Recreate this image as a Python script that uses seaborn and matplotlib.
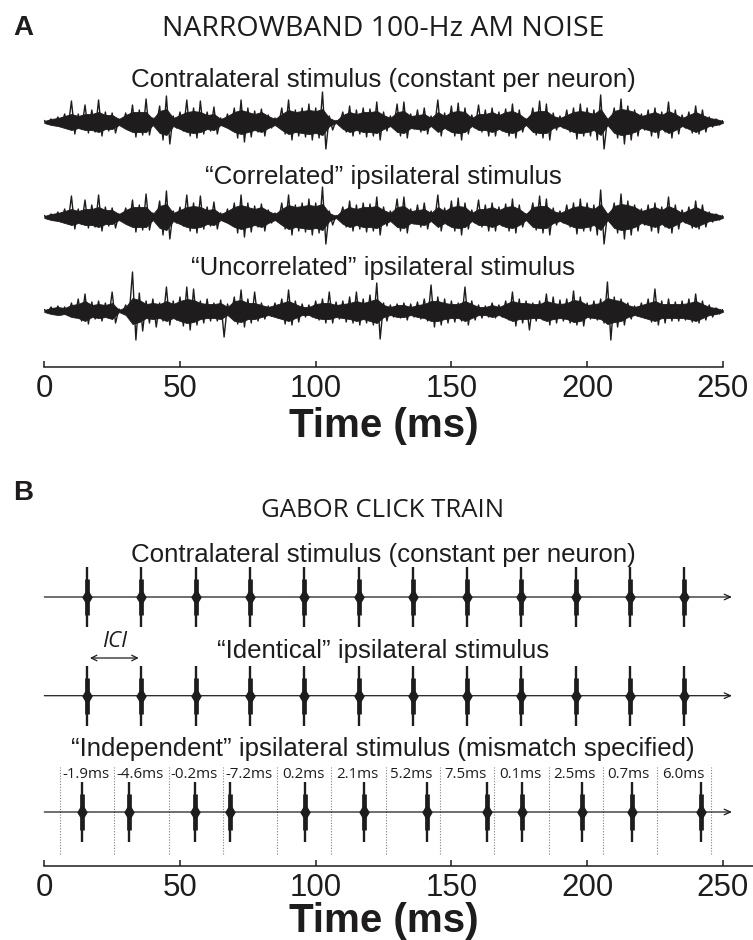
import numpy as np
import pandas as pd
import matplotlib
matplotlib.use("Agg")
import matplotlib.pyplot as plt
import seaborn as sns

# ---------------- data ----------------
# Panel A: narrowband AM noise, envelope every 2.5 ms
# (up = positive peak, dn = negative peak, core = solid body half-height; arbitrary units ~ px)
noise_t_ms = np.arange(0, 250.01, 2.5)

contra_up = [1.5, 3, 5, 8, 21, 8, 17, 12, 22, 10, 9, 3, 9, 17, 12, 23, 4, 16, 26, 6,
             10, 22, 14, 21, 10, 15, 4, 8, 14, 22, 14, 11, 13, 7, 4, 14, 22, 12, 14, 18,
             14, 30, 6, 1.5, 10, 16, 12, 14, 13, 20, 10, 6, 18, 20, 8, 12, 14, 6, 22, 9,
             16, 19, 14, 7, 17, 12, 14, 10, 13, 18, 12, 3, 14, 21, 18, 9, 6, 12, 14, 18,
             14, 12, 27, 3, 14, 23, 16, 12, 8, 12, 14, 10, 20, 12, 7, 10, 16, 12, 5, 3, 1.5]
contra_dn = [1.5, 3, 4, 6, 12, 7, 11, 10, 14, 9, 11, 3, 8, 15, 13, 13, 4, 18, 22, 6,
             9, 14, 16, 12, 9, 12, 4, 7, 16, 20, 15, 10, 14, 6, 4, 12, 18, 14, 15, 18,
             16, 27, 8, 1.5, 10, 14, 12, 15, 14, 18, 9, 5, 14, 16, 7, 10, 12, 6, 14, 8,
             14, 18, 12, 6, 10, 14, 14, 9, 14, 16, 10, 3, 13, 16, 18, 8, 6, 10, 17, 14,
             14, 18, 27, 3, 16, 22, 18, 14, 8, 14, 16, 10, 16, 12, 6, 11, 12, 10, 5, 3, 1.5]
contra_core = [1, 3, 4, 6, 8, 6, 8, 8, 10, 7, 7, 3, 7, 10, 10, 10, 3, 11, 13, 4,
               7, 10, 11, 10, 7, 8, 3, 6, 10, 12, 10, 8, 10, 6, 3, 8, 12, 10, 11, 12,
               11, 13, 4, 1, 7, 10, 8, 10, 10, 11, 7, 4, 10, 11, 6, 7, 8, 4, 10, 6,
               10, 11, 10, 4, 8, 8, 10, 7, 10, 11, 8, 3, 10, 11, 11, 6, 4, 7, 10, 11,
               10, 8, 13, 3, 11, 13, 12, 10, 6, 8, 10, 7, 11, 8, 4, 7, 10, 7, 4, 3, 1]

# "Correlated" ipsilateral stimulus is drawn identical to the contralateral one
corr_up = list(contra_up)
corr_dn = list(contra_dn)
corr_core = list(contra_core)

uncorr_up = [1.5, 4, 5, 4, 8, 12, 17, 9, 10, 8, 19, 2, 6, 39, 18, 10, 12, 8, 24, 10,
             14, 24, 22, 10, 12, 8, 11, 7, 14, 21, 12, 19, 8, 5, 8, 12, 21, 10, 7, 6,
             10, 12, 19, 9, 10, 14, 19, 12, 16, 28, 8, 6, 7, 8, 7, 9, 12, 26, 14, 12,
             10, 8, 24, 10, 6, 5, 8, 6, 10, 19, 12, 10, 8, 10, 17, 14, 11, 12, 20, 14,
             8, 10, 12, 29, 14, 12, 8, 5, 8, 12, 22, 10, 12, 9, 10, 12, 17, 10, 6, 3, 1.5]
uncorr_dn = [1.5, 3, 4, 4, 6, 10, 13, 8, 10, 7, 12, 2, 5, 29, 20, 12, 16, 10, 14, 9,
             15, 19, 14, 12, 10, 10, 26, 6, 13, 16, 12, 10, 8, 5, 7, 13, 14, 11, 6, 6,
             9, 12, 12, 8, 11, 12, 14, 12, 14, 28, 10, 6, 7, 9, 6, 8, 10, 16, 14, 12,
             11, 10, 14, 9, 7, 6, 7, 6, 9, 15, 12, 19, 10, 9, 14, 12, 10, 12, 14, 15,
             8, 9, 12, 29, 16, 14, 8, 5, 7, 11, 14, 12, 10, 10, 9, 11, 12, 9, 6, 3, 1.5]
uncorr_core = [1, 3, 4, 3, 6, 7, 10, 6, 7, 6, 8, 1, 4, 13, 11, 7, 8, 7, 10, 7,
               10, 12, 11, 8, 7, 7, 8, 4, 10, 11, 8, 8, 6, 4, 6, 8, 10, 7, 4, 4,
               7, 8, 8, 6, 7, 8, 10, 8, 10, 12, 6, 4, 6, 6, 4, 6, 7, 10, 10, 8,
               7, 7, 10, 7, 4, 4, 6, 4, 7, 10, 8, 8, 7, 7, 10, 8, 7, 8, 11, 10,
               6, 7, 8, 13, 11, 10, 6, 4, 6, 8, 10, 7, 7, 7, 7, 8, 10, 7, 4, 3, 1]

noise_titles = ["Contralateral stimulus (constant per neuron)",
                "\u201cCorrelated\u201d ipsilateral stimulus",
                "\u201cUncorrelated\u201d ipsilateral stimulus"]

# Panel B: Gabor click train
contra_clicks_ms = [15.8, 35.8, 55.8, 75.8, 95.8, 115.8, 135.8, 155.8, 175.8, 195.8, 215.8, 235.8]
mismatch_ms = [-1.9, -4.6, -0.2, -7.2, 0.2, 2.1, 5.2, 7.5, 0.1, 2.5, 0.7, 6.0]
window_edges_ms = [5.8, 25.8, 45.8, 65.8, 85.8, 105.8, 125.8, 145.8, 165.8, 185.8, 205.8, 225.8, 245.8]
click_titles = ["Contralateral stimulus (constant per neuron)",
                "\u201cIdentical\u201d ipsilateral stimulus",
                "\u201cIndependent\u201d ipsilateral stimulus (mismatch specified)"]

x_ticks = [0, 50, 100, 150, 200, 250]
x_label = "Time (ms)"

# ---------------- styling / layout ----------------
W, H, DPI = 753, 940, 100
INK = "#1e1c1d"
sns.set_theme(style="white")
plt.rcParams["font.family"] = ["Liberation Sans", "DejaVu Sans"]
plt.rcParams["text.color"] = INK

fig = plt.figure(figsize=(W / DPI, H / DPI), dpi=DPI)
fig.patch.set_facecolor("white")

X0 = 44.3          # pixel of t = 0
PXMS = 2.714       # pixels per ms


def fx(px):
    return px / W


def fy(py):
    return 1 - py / H


def rect(xl, xr, yt, yb):
    return [fx(xl), fy(yb), (xr - xl) / W, (yb - yt) / H]


def ftext(x, y, s, **kw):
    fig.text(fx(x), fy(y), s, va="baseline", **kw)


def style_time_axis(ax):
    for side in ["top", "left", "right"]:
        ax.spines[side].set_visible(False)
    ax.spines["bottom"].set_color(INK)
    ax.spines["bottom"].set_linewidth(1.1)
    ax.set_xticks(x_ticks)
    ax.set_xticklabels([str(v) for v in x_ticks])
    ax.set_yticks([])
    ax.tick_params(axis="x", direction="in", length=4.5, width=1.1, color=INK,
                   labelsize=22.5, pad=5.0, labelcolor=INK, bottom=True)
    ax.set_xlabel("")
    ax.set_ylabel("")
    ax.grid(False)
    ax.set_facecolor("none")


# ---------------- Panel A ----------------
A_SPINE = 367
axA = fig.add_axes(rect(X0, X0 + 250 * PXMS, 50, A_SPINE))
axA.set_xlim(0, 250)
axA.set_ylim(0, A_SPINE - 50)

traces = [("contra", 122, contra_up, contra_dn, contra_core),
          ("corr", 217, corr_up, corr_dn, corr_core),
          ("uncorr", 311, uncorr_up, uncorr_dn, uncorr_core)]
rows = []
for name, cy, up, dn, core in traces:
    off = A_SPINE - cy
    for i, t in enumerate(noise_t_ms):
        rows.append((name, t, off + up[i]))
        if i < len(noise_t_ms) - 1:
            rows.append((name, t + 1.25, off - dn[i]))
    axA.fill_between(noise_t_ms, off - np.array(core), off + np.array(core),
                     color=INK, lw=0.6, edgecolor=INK)
noise_df = pd.DataFrame(rows, columns=["trace", "t", "y"])
sns.lineplot(data=noise_df, x="t", y="y", units="trace", estimator=None, sort=False,
             color=INK, lw=1.0, ax=axA)
style_time_axis(axA)
axA.spines["bottom"].set_bounds(0, 250)

ftext(13, 35, "A", fontsize=20, fontweight="bold")
ftext(383, 36, "NARROWBAND 100-Hz AM NOISE", fontsize=20.5, ha="center",
      family=["Open Sans", "DejaVu Sans"])
for title, base in zip(noise_titles, [87, 184, 275]):
    ftext(383, base, title, fontsize=18.6, ha="center")
ftext(383.5, 437, x_label, fontsize=29, fontweight="bold", ha="center")

# ---------------- Panel B ----------------
B_SPINE = 865.7
B_TOP = 530
axB = fig.add_axes(rect(X0, W, B_TOP, B_SPINE))
axB.set_xlim(0, (W - X0) / PXMS)
axB.set_ylim(0, B_SPINE - B_TOP)

indep_clicks_ms = [c + m for c, m in zip(contra_clicks_ms, mismatch_ms)]
click_rows = [(597, contra_clicks_ms), (695.7, contra_clicks_ms), (812, indep_clicks_ms)]
arrow_end = (732 - X0) / PXMS
for cy, times in click_rows:
    y0 = B_SPINE - cy
    axB.annotate("", xy=(arrow_end, y0), xytext=(0, y0),
                 arrowprops=dict(arrowstyle="->,head_length=0.45,head_width=0.2",
                                 lw=0.9, color=INK, shrinkA=0, shrinkB=0,
                                 mutation_scale=10))
    axB.vlines(times, y0 - 30, y0 + 30, color=INK, lw=1.7)
    axB.vlines(times, y0 - 18, y0 + 18, color=INK, lw=3.4)
    sns.scatterplot(x=times, y=[y0] * len(times), marker="d", s=80, color=INK,
                    linewidth=0, ax=axB, legend=False)

# window separators and mismatch labels for the independent train
axB.vlines(window_edges_ms, B_SPINE - 854, B_SPINE - 767, colors="#808080",
           linestyles=(0, (1, 1.5)), lw=0.8)
for c, m in zip(contra_clicks_ms, mismatch_ms):
    axB.text(c - 0.5, B_SPINE - 778, f"{m:.1f}ms", ha="center", va="baseline",
             fontsize=10.8, family=["Open Sans", "DejaVu Sans"], color=INK)

# ICI annotation
ici_y = B_SPINE - 658
axB.annotate("", xy=(contra_clicks_ms[1], ici_y), xytext=(contra_clicks_ms[0], ici_y),
             arrowprops=dict(arrowstyle="<->,head_length=0.4,head_width=0.2", lw=0.9,
                             color=INK, shrinkA=2, shrinkB=2, mutation_scale=10))
axB.text((contra_clicks_ms[0] + contra_clicks_ms[1]) / 2, B_SPINE - 647, "ICI",
         ha="center", va="baseline", fontsize=16, fontstyle="italic",
         family=["Open Sans", "DejaVu Sans"], color=INK)

style_time_axis(axB)

ftext(13, 500, "B", fontsize=20, fontweight="bold")
ftext(383, 517, "GABOR CLICK TRAIN", fontsize=18.5, ha="center",
      family=["Open Sans", "DejaVu Sans"])
for title, base in zip(click_titles, [562, 658, 756]):
    ftext(383, base, title, fontsize=18.6, ha="center")
ftext(383.5, 932, x_label, fontsize=29, fontweight="bold", ha="center")

fig.savefig("out.png", dpi=DPI, facecolor="white")
